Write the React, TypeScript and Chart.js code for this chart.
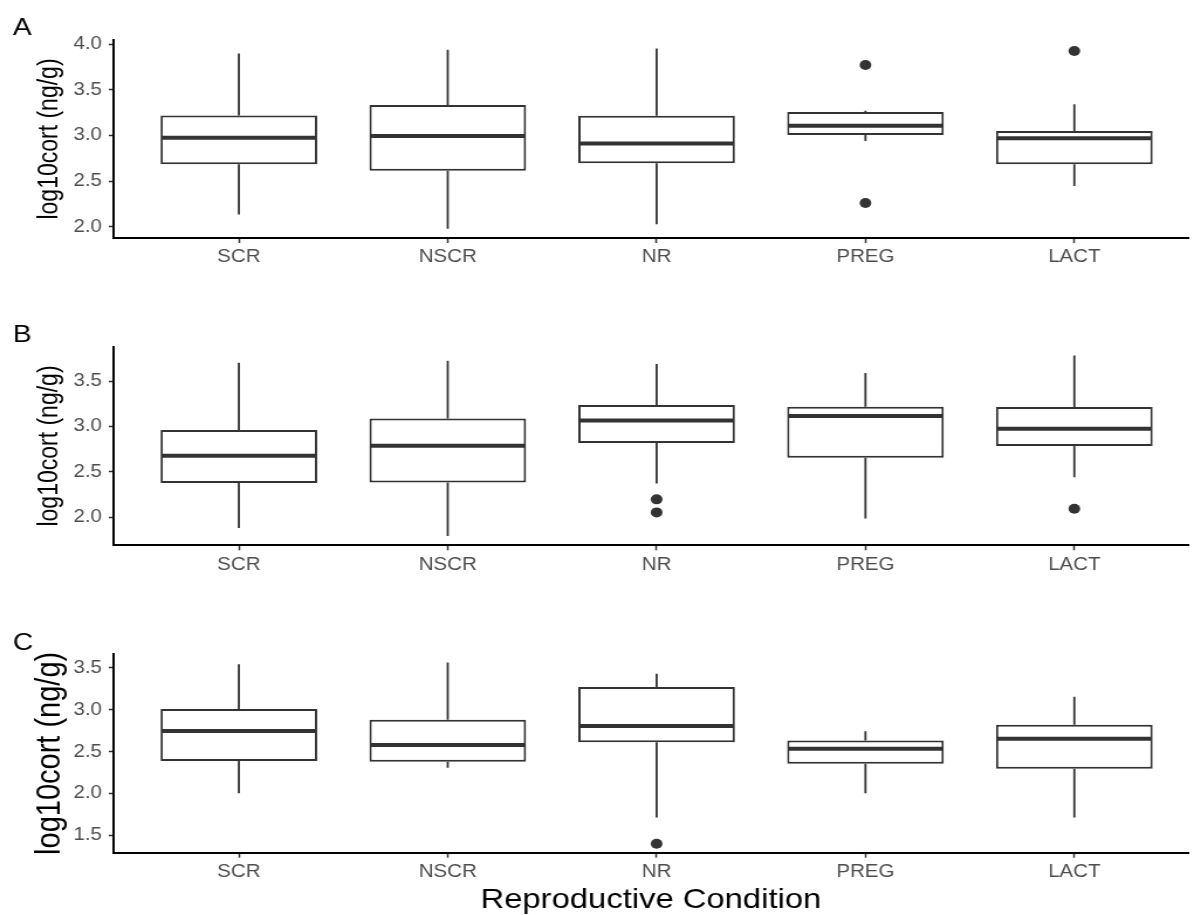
import React, { useEffect, useRef } from 'react';
import { Chart, registerables } from 'chart.js';

Chart.register(...registerables);

// ---------- data ----------
const categories = ['SCR', 'NSCR', 'NR', 'PREG', 'LACT'];

// Panel A
const aLow = [2.135, 1.978, 2.026, 2.94, 2.446];
const aQ1 = [2.684, 2.614, 2.695, 3.005, 2.684];
const aMed = [2.976, 2.995, 2.914, 3.108, 2.969];
const aQ3 = [3.22, 3.335, 3.218, 3.258, 3.049];
const aHigh = [3.9, 3.94, 3.956, 3.272, 3.342];
const aOutliers = [[], [], [], [3.773, 2.26], [3.927]];
const aTicks = [2.0, 2.5, 3.0, 3.5, 4.0];

// Panel B
const bLow = [1.879, 1.79, 2.371, 1.985, 2.438];
const bQ1 = [2.375, 2.382, 2.816, 2.654, 2.783];
const bMed = [2.676, 2.787, 3.066, 3.114, 2.974];
const bQ3 = [2.96, 3.088, 3.235, 3.217, 3.213];
const bHigh = [3.702, 3.724, 3.687, 3.588, 3.783];
const bOutliers = [[], [], [2.195, 2.051], [], [2.092]];
const bTicks = [2.0, 2.5, 3.0, 3.5];

// Panel C
const cLow = [2.002, 2.309, 1.715, 2.002, 1.715];
const cQ1 = [2.388, 2.38, 2.612, 2.357, 2.297];
const cMed = [2.747, 2.58, 2.807, 2.536, 2.655];
const cQ3 = [3.01, 2.882, 3.273, 2.635, 2.823];
const cHigh = [3.544, 3.564, 3.432, 2.743, 3.157];
const cOutliers = [[], [], [1.4], [], []];
const cTicks = [1.5, 2.0, 2.5, 3.0, 3.5];

const yTitle = 'log10cort (ng/g)';
const xTitle = 'Reproductive Condition';

// ---------- layout / style ----------
const FONT = "'Liberation Sans', Arial, Helvetica, sans-serif";
const PAGE_W = 1194;
const INNER_W = 1020; // reference is horizontally stretched
const AXIS_X = 97;
const LINE = '#333333';

type Panel = {
  letter: string;
  low: number[];
  q1: number[];
  med: number[];
  q3: number[];
  high: number[];
  outliers: number[][];
  ticks: number[];
  yMin: number;
  yMax: number;
  top: number;
  height: number;
  areaTop: number;
  areaBottom: number;
  titleSize: number;
  titlePad: number;
  letterBase: number;
  showXTitle: boolean;
};

const panels: Panel[] = [
  {
    letter: 'A', low: aLow, q1: aQ1, med: aMed, q3: aQ3, high: aHigh, outliers: aOutliers, ticks: aTicks,
    yMin: 1.876, yMax: 4.048, top: 0, height: 300, areaTop: 40, areaBottom: 238,
    titleSize: 23, titlePad: 31, letterBase: 35, showXTitle: false,
  },
  {
    letter: 'B', low: bLow, q1: bQ1, med: bMed, q3: bQ3, high: bHigh, outliers: bOutliers, ticks: bTicks,
    yMin: 1.688, yMax: 3.879, top: 300, height: 310, areaTop: 46.7, areaBottom: 245.3,
    titleSize: 23, titlePad: 31, letterBase: 42, showXTitle: false,
  },
  {
    letter: 'C', low: cLow, q1: cQ1, med: cMed, q3: cQ3, high: cHigh, outliers: cOutliers, ticks: cTicks,
    yMin: 1.293, yMax: 3.667, top: 610, height: 305, areaTop: 44, areaBottom: 242.7,
    titleSize: 29, titlePad: 28, letterBase: 40, showXTitle: true,
  },
];

function makeConfig(p: Panel): any {
  const outlierPoints: { x: number; y: number }[] = [];
  p.outliers.forEach((arr, i) => arr.forEach((v) => outlierPoints.push({ x: i, y: v })));

  const extras = {
    id: 'boxExtras' + p.letter,
    afterDatasetsDraw(chart: any) {
      const { ctx } = chart;
      const xs = chart.scales.x;
      const ys = chart.scales.y;
      const meta = chart.getDatasetMeta(0);
      ctx.save();
      ctx.strokeStyle = LINE;
      meta.data.forEach((bar: any, i: number) => {
        const { x: cx, width } = bar.getProps(['x', 'width'], true);
        const xp = xs.getPixelForValue(i);
        ctx.lineWidth = 1.8;
        ctx.beginPath();
        ctx.moveTo(xp, ys.getPixelForValue(p.q3[i]));
        ctx.lineTo(xp, ys.getPixelForValue(p.high[i]));
        ctx.moveTo(xp, ys.getPixelForValue(p.q1[i]));
        ctx.lineTo(xp, ys.getPixelForValue(p.low[i]));
        ctx.stroke();
        ctx.lineWidth = 4;
        ctx.beginPath();
        const ym = ys.getPixelForValue(p.med[i]);
        ctx.moveTo(cx - width / 2 + 1, ym);
        ctx.lineTo(cx + width / 2 - 1, ym);
        ctx.stroke();
      });
      ctx.restore();
    },
    afterDraw(chart: any) {
      const { ctx } = chart;
      ctx.save();
      ctx.fillStyle = '#000000';
      ctx.font = `24px ${FONT}`;
      ctx.textBaseline = 'alphabetic';
      ctx.textAlign = 'left';
      ctx.fillText(p.letter, 11, p.letterBase);
      ctx.restore();
    },
  };

  return {
    type: 'bar',
    data: {
      datasets: [
        {
          type: 'bar',
          data: categories.map((_, i) => ({ x: i, y: [p.q1[i], p.q3[i]] })),
          backgroundColor: '#ffffff',
          borderColor: LINE,
          borderWidth: 2,
          borderSkipped: false,
          barPercentage: 0.75,
          categoryPercentage: 1,
          order: 1,
        },
        {
          type: 'scatter',
          data: outlierPoints,
          pointRadius: 5,
          pointBackgroundColor: LINE,
          pointBorderColor: LINE,
          pointBorderWidth: 0,
          order: 0,
        },
      ],
    },
    options: {
      animation: false,
      responsive: false,
      devicePixelRatio: 1,
      events: [],
      layout: { padding: { top: p.areaTop, left: 0, right: 0, bottom: 0 } },
      plugins: { legend: { display: false }, tooltip: { enabled: false }, title: { display: false } },
      scales: {
        x: {
          type: 'linear',
          min: -0.6,
          max: 4.545,
          offset: false,
          afterBuildTicks: (s: any) => {
            s.ticks = categories.map((_, i) => ({ value: i }));
          },
          afterFit: (s: any) => {
            s.height = p.height - p.areaBottom;
          },
          ticks: {
            callback: (v: any) => categories[Math.round(Number(v))] ?? '',
            font: { family: FONT, size: 17.5 },
            color: '#4d4d4d',
            padding: 4,
            maxRotation: 0,
            autoSkip: false,
          },
          grid: { offset: false, drawOnChartArea: false, drawTicks: true, tickLength: 5, tickColor: LINE, tickWidth: 1.5 },
          border: { display: true, color: '#000000', width: 2 },
          title: {
            display: p.showXTitle,
            text: xTitle,
            color: '#000000',
            font: { family: FONT, size: 28, lineHeight: 1 },
            padding: { top: 0, bottom: 1 },
          },
        },
        y: {
          type: 'linear',
          min: p.yMin,
          max: p.yMax,
          afterBuildTicks: (s: any) => {
            s.ticks = p.ticks.map((v) => ({ value: v }));
          },
          afterFit: (s: any) => {
            s.width = AXIS_X;
          },
          ticks: {
            callback: (v: any) => Number(v).toFixed(1),
            font: { family: FONT, size: 17.5 },
            color: '#4d4d4d',
            padding: 6,
          },
          grid: { drawOnChartArea: false, drawTicks: true, tickLength: 4, tickColor: LINE, tickWidth: 1.5 },
          border: { display: true, color: '#000000', width: 2 },
          title: {
            display: true,
            text: yTitle,
            color: '#000000',
            font: { family: FONT, size: p.titleSize, lineHeight: 1 },
            padding: { top: p.titlePad, bottom: 0 },
          },
        },
      },
    },
    plugins: [extras],
  };
}

function PanelChart({ panel }: { panel: Panel }) {
  const ref = useRef<HTMLCanvasElement | null>(null);
  useEffect(() => {
    if (!ref.current) return;
    const chart = new Chart(ref.current, makeConfig(panel));
    return () => chart.destroy();
  }, [panel]);
  return (
    <canvas
      ref={ref}
      width={INNER_W}
      height={panel.height}
      style={{
        position: 'absolute',
        left: 0,
        top: panel.top,
        width: PAGE_W + 'px',
        height: panel.height + 'px',
        display: 'block',
      }}
    />
  );
}

export default function App() {
  return (
    <div style={{ position: 'absolute', left: 0, top: 0, width: PAGE_W, height: 915, background: '#ffffff', overflow: 'hidden' }}>
      {panels.map((p) => (
        <PanelChart key={p.letter} panel={p} />
      ))}
    </div>
  );
}
